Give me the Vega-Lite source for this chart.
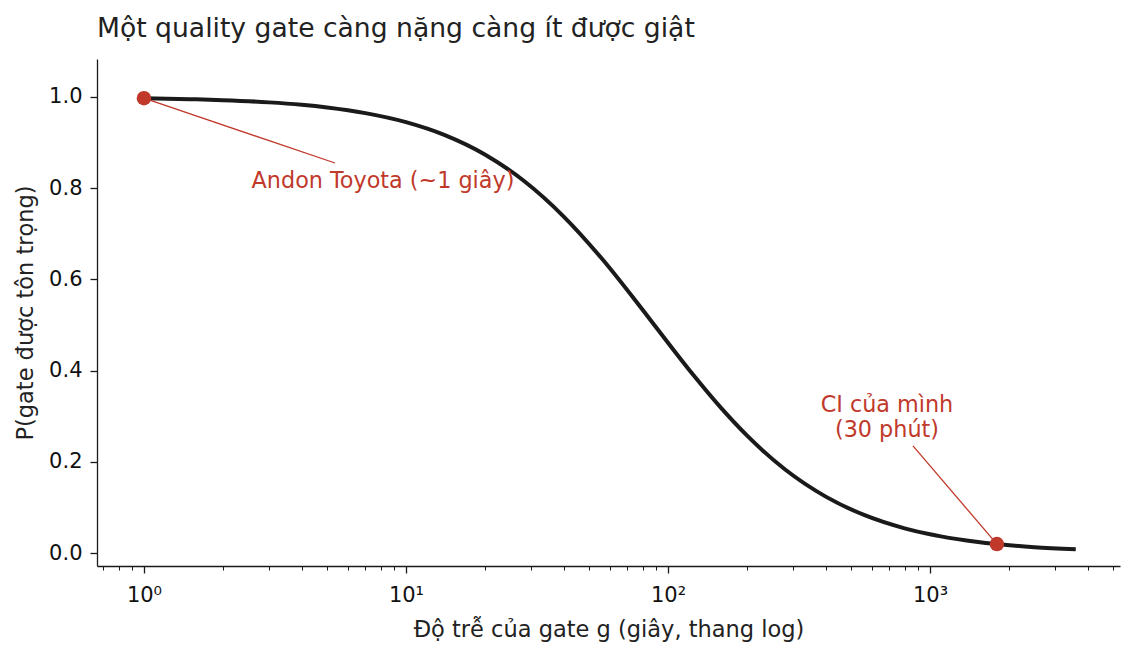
{
  "$schema": "https://vega.github.io/schema/vega-lite/v6.json",
  "width": 1023,
  "height": 507,
  "autosize": {"type": "none"},
  "padding": {"left": 97, "top": 59, "right": 16, "bottom": 89},
  "background": "white",
  "config": {
    "view": {"stroke": null},
    "font": "DejaVu Sans",
    "axis": {
      "grid": false,
      "domainColor": "#1a1a1a",
      "domainWidth": 1.3,
      "tickColor": "#1a1a1a",
      "tickWidth": 1.3,
      "labelFont": "DejaVu Sans",
      "labelFontSize": 21,
      "labelColor": "#111111",
      "titleFont": "DejaVu Sans",
      "titleFontSize": 22.5,
      "titleFontWeight": "normal",
      "titleColor": "#222222"
    }
  },
  "title": {
    "text": "Một quality gate càng nặng càng ít được giật",
    "anchor": "start",
    "frame": "group",
    "font": "DejaVu Sans",
    "fontSize": 26.6,
    "fontWeight": "normal",
    "color": "#222222",
    "offset": 16
  },
  "datasets": {
    "curve": [
      {"g": 1, "p": 0.9971}, {"g": 1.5, "p": 0.995}, {"g": 2, "p": 0.9928},
      {"g": 3, "p": 0.9879}, {"g": 4, "p": 0.9825}, {"g": 5, "p": 0.9767},
      {"g": 7, "p": 0.9644}, {"g": 10, "p": 0.9446}, {"g": 14, "p": 0.9167},
      {"g": 20, "p": 0.8737}, {"g": 28, "p": 0.8171}, {"g": 40, "p": 0.7376},
      {"g": 56, "p": 0.645}, {"g": 80, "p": 0.5332}, {"g": 100, "p": 0.4608},
      {"g": 125, "p": 0.39}, {"g": 160, "p": 0.3169}, {"g": 200, "p": 0.2577},
      {"g": 280, "p": 0.183}, {"g": 400, "p": 0.1236}, {"g": 560, "p": 0.0834},
      {"g": 800, "p": 0.0541}, {"g": 1000, "p": 0.041}, {"g": 1100, "p": 0.0364},
      {"g": 1500, "p": 0.0246}, {"g": 1800, "p": 0.0195}, {"g": 2500, "p": 0.0128},
      {"g": 3600, "p": 0.008}
    ],
    "points": [
      {"g": 1, "p": 0.9971},
      {"g": 1800, "p": 0.0195}
    ],
    "arrows": [
      {"g": 1, "p": 0.9971, "g2": 5.36, "p2": 0.855},
      {"g": 1800, "p": 0.0195, "g2": 861, "p2": 0.235}
    ],
    "labels": [
      {"g": 8.17, "p": 0.816, "label": "Andon Toyota (~1 giây)"},
      {"g": 685, "p": 0.3235, "label": "CI của mình\n(30 phút)"}
    ]
  },
  "layer": [
    {
      "data": {"name": "curve"},
      "mark": {"type": "line", "color": "#1a1a1a", "strokeWidth": 4, "interpolate": "monotone"},
      "encoding": {
        "x": {
          "field": "g", "type": "quantitative",
          "scale": {"type": "log", "domain": [0.662, 5310], "nice": false},
          "axis": {
            "title": "Độ trễ của gate g (giây, thang log)",
            "values": [0.7, 0.8, 0.9, 1, 2, 3, 4, 5, 6, 7, 8, 9, 10, 20, 30, 40, 50, 60, 70, 80, 90, 100, 200, 300, 400, 500, 600, 700, 800, 900, 1000, 2000, 3000, 4000, 5000],
            "labelExpr": "datum.value == 1 ? '10⁰' : datum.value == 10 ? '10¹' : datum.value == 100 ? '10²' : datum.value == 1000 ? '10³' : ''",
            "tickSize": {"condition": {"test": "datum.value == 1 || datum.value == 10 || datum.value == 100 || datum.value == 1000", "value": 7}, "value": 4},
            "tickWidth": {"condition": {"test": "datum.value == 1 || datum.value == 10 || datum.value == 100 || datum.value == 1000", "value": 1.3}, "value": 1},
            "labelPadding": 11,
            "labelOverlap": false,
            "labelBound": false,
            "titleBaseline": "middle",
            "titleY": 63
          }
        },
        "y": {
          "field": "p", "type": "quantitative",
          "scale": {"domain": [-0.0285, 1.083], "nice": false, "zero": false},
          "axis": {
            "title": "P(gate được tôn trọng)",
            "values": [0, 0.2, 0.4, 0.6, 0.8, 1.0],
            "format": ".1f",
            "tickSize": 7,
            "labelPadding": 8,
            "titleBaseline": "middle",
            "titleX": -72
          }
        }
      }
    },
    {
      "data": {"name": "arrows"},
      "mark": {"type": "rule", "color": "#c0392b", "strokeWidth": 1.3},
      "encoding": {
        "x": {"field": "g", "type": "quantitative"},
        "y": {"field": "p", "type": "quantitative"},
        "x2": {"field": "g2"},
        "y2": {"field": "p2"}
      }
    },
    {
      "data": {"name": "points"},
      "mark": {"type": "circle", "color": "#c0392b", "size": 210, "opacity": 1},
      "encoding": {
        "x": {"field": "g", "type": "quantitative"},
        "y": {"field": "p", "type": "quantitative"}
      }
    },
    {
      "data": {"name": "labels"},
      "mark": {"type": "text", "color": "#c0392b", "fontSize": 22.3, "font": "DejaVu Sans", "align": "center", "baseline": "middle", "lineBreak": "\n", "lineHeight": 25},
      "encoding": {
        "x": {"field": "g", "type": "quantitative"},
        "y": {"field": "p", "type": "quantitative"},
        "text": {"field": "label"}
      }
    }
  ]
}
